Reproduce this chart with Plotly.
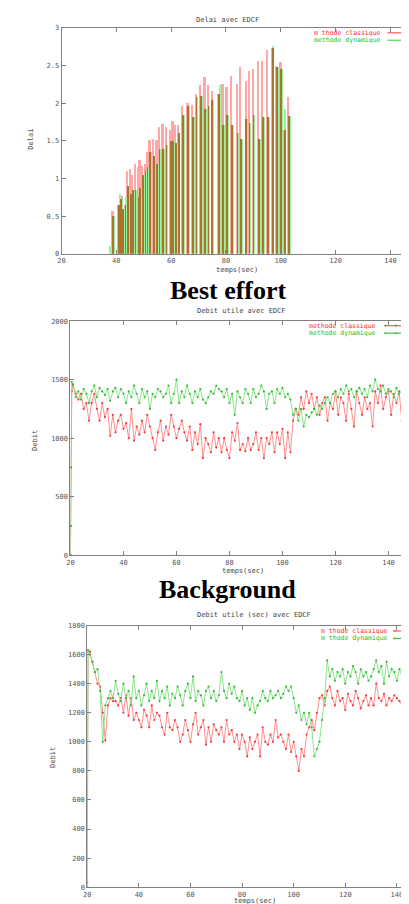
import numpy as np
import plotly.graph_objects as go

W, H = 409, 904

# ---------------- Data: plot 1 (Delai avec EDCF) ----------------
bar_t = [37.2, 38.4, 40.5, 41.3, 42.0, 42.9, 43.7, 44.9, 45.6, 46.6, 47.7, 48.3, 49.2, 50.2,
         50.9, 51.9, 53.2, 54.5, 55.3, 56.7, 57.9, 59.5, 60.3, 61.3, 62.3, 63.9, 65.8, 67.5,
         68.8, 70.5, 72.0, 73.2, 74.6, 77.1, 78.6, 80.0, 81.7, 83.8, 85.0, 87.0, 88.2, 89.6,
         91.6, 93.0, 94.8, 96.6, 98.2, 99.7, 101.0, 102.6]
delai_classique = [0.0, 0.57, 0.65, 0.73, 0.77, 0.65, 1.10, 1.13, 1.05, 1.20, 1.15, 1.25, 1.17, 1.20,
                   1.35, 1.51, 1.53, 1.51, 1.69, 1.73, 1.69, 1.64, 1.77, 1.71, 1.71, 1.96, 2.00, 1.98,
                   2.12, 2.25, 2.35, 2.24, 2.16, 2.13, 2.26, 2.22, 2.36, 2.26, 2.48, 2.29, 2.43, 2.45,
                   2.56, 2.56, 2.71, 2.73, 2.50, 2.55, 1.65, 2.08]
delai_dynamique = [0.10, 0.50, 0.80, 0.73, 0.60, 0.75, 0.90, 0.80, 0.85, 0.85, 0.75, 0.87, 1.05, 1.10,
                   1.15, 1.35, 1.30, 1.20, 1.40, 1.39, 1.45, 1.50, 1.50, 1.48, 1.60, 1.84, 1.97, 1.82,
                   2.08, 2.10, 1.93, 1.97, 2.05, 2.24, 1.71, 1.84, 1.71, 1.60, 1.53, 1.79, 1.74, 1.84,
                   1.53, 1.82, 1.82, 2.76, 2.48, 2.45, 1.92, 1.83]

# ---------------- Data: plot 2 (Best effort) ----------------
t2 = [20, 20.1, 20.2, 20.5] + list(range(21, 150)) + [150]
debit_be_classique = [0, 250, 750, 1400,
    1450, 1380, 1330, 1380, 1250, 1300, 1150, 1300, 1380, 1250,
    1150, 1300, 1180, 1250, 1020, 1200, 1050, 1150, 1200, 1080,
    1130, 1000, 1250, 980, 1100, 1030, 1150, 1050, 1200, 1100,
    1000, 900, 1050, 1150, 980, 1100, 1030, 1200, 1100, 1000,
    1080, 1150, 1050, 980, 1100, 900, 1050, 950, 1120, 830,
    1000, 950, 880, 1050, 920, 1000, 880, 1000, 900, 830,
    1050, 980, 1130, 900, 950, 890, 1000, 900, 950, 1050,
    900, 1000, 830, 1000, 950, 1050, 880, 1050, 950, 1080,
    830, 1050, 880, 1150, 1250, 1200, 1350, 1250, 1400, 1300,
    1380, 1250, 1350, 1200, 1300, 1350, 1150, 1300, 1250, 1400,
    1200, 1350, 1300, 1150, 1380, 1250, 1100, 1400, 1300, 1200,
    1350, 1250, 1300, 1100, 1400, 1300, 1450, 1250, 1350, 1400,
    1200, 1380, 1300, 1400, 1150, 1350, 1250, 1400, 1200,
    1450]
debit_be_dynamique = [0, 250, 750, 1480,
    1460, 1350, 1400, 1330, 1420, 1380, 1300, 1400, 1450, 1350,
    1430, 1400, 1370, 1420, 1320, 1400, 1430, 1350, 1420, 1380,
    1300, 1400, 1350, 1450, 1380, 1300, 1420, 1350, 1400, 1250,
    1380, 1350, 1420, 1400, 1350, 1380, 1450, 1300, 1380, 1500,
    1300, 1400, 1350, 1450, 1380, 1300, 1400, 1350, 1420, 1330,
    1300, 1350, 1400, 1380, 1450, 1420, 1400, 1350, 1420, 1300,
    1380, 1200, 1400, 1350, 1300, 1420, 1380, 1300, 1420, 1350,
    1380, 1450, 1400, 1250, 1380, 1400, 1300, 1420, 1380, 1430,
    1350, 1380, 1330, 1200, 1250, 1150, 1250, 1100, 1200, 1180,
    1220, 1250, 1200, 1280, 1250, 1300, 1350, 1300, 1380, 1400,
    1350, 1420, 1380, 1450, 1400, 1420, 1350, 1400, 1430, 1380,
    1420, 1350, 1450, 1400, 1500, 1420, 1400, 1450, 1380, 1420,
    1400, 1350, 1430, 1380, 1400, 1350, 1420, 1380, 1400,
    1480]

# ---------------- Data: plot 3 (Background) ----------------
t3 = [20, 20.3] + list(range(21, 149))
debit_bg_classique = [30, 1630,
    1620, 1550, 1480, 1400, 1380, 1200, 1010, 1250, 1300, 1280,
    1280, 1250, 1300, 1200, 1320, 1180, 1300, 1150, 1200, 1150,
    1100, 1220, 1180, 1100, 1250, 1150, 1200, 1180, 1100, 1050,
    1200, 1100, 1080, 1150, 1100, 1000, 1050, 1150, 1080, 1000,
    1120, 1200, 1050, 1100, 1150, 980, 1100, 1000, 1120, 1080,
    1050, 1100, 1000, 1150, 1050, 1080, 1000, 1050, 950, 1050,
    1000, 900, 1030, 950, 1000, 1050, 900, 1100, 1000, 980,
    1050, 1000, 1150, 1030, 1050, 1000, 950, 1050, 930, 1000,
    900, 800, 950, 900, 1050, 1100, 1150, 1080, 1200, 1300,
    1320, 1250, 1350, 1380, 1300, 1250, 1350, 1280, 1300, 1220,
    1330, 1280, 1250, 1350, 1300, 1230, 1280, 1320, 1250, 1300,
    1250, 1400, 1300, 1280, 1330, 1250, 1300, 1280, 1320, 1300,
    1280, 1250, 1300, 1350, 1280, 1300, 1250, 1350]
debit_bg_dynamique = [0, 1630,
    1600, 1550, 1480, 1500, 1350, 1000, 1250, 1300, 1350, 1300,
    1420, 1330, 1280, 1400, 1300, 1350, 1250, 1450, 1300, 1350,
    1250, 1320, 1400, 1280, 1350, 1300, 1420, 1280, 1350, 1300,
    1380, 1250, 1330, 1300, 1380, 1320, 1250, 1350, 1400, 1300,
    1450, 1280, 1350, 1320, 1250, 1350, 1380, 1300, 1350, 1280,
    1320, 1480, 1350, 1300, 1400, 1330, 1380, 1300, 1280, 1350,
    1250, 1300, 1220, 1300, 1200, 1250, 1280, 1350, 1300, 1280,
    1350, 1300, 1320, 1350, 1300, 1330, 1380, 1350, 1380, 1300,
    1200, 1250, 1150, 1200, 1120, 1200, 1100, 900, 950, 1000,
    1150, 1300, 1560, 1450, 1500, 1420, 1480, 1450, 1500, 1400,
    1480, 1450, 1520, 1480, 1400, 1500, 1450, 1480, 1420, 1450,
    1500, 1560, 1480, 1520, 1400, 1550, 1450, 1500, 1480, 1420,
    1500, 1450, 1480, 1420, 1450, 1400, 1450, 1430]

x_ticks = [20, 40, 60, 80, 100, 120, 140]
y1_ticks = [0, 0.5, 1, 1.5, 2, 2.5, 3]
y1_labels = ["0", "0.5", "1", "1.5", "2", "2.5", "3"]
y2_ticks = [0, 500, 1000, 1500, 2000]
y3_ticks = [0, 200, 400, 600, 800, 1000, 1200, 1400, 1600, 1800]

PINK = "#ffa6a6"
LGREEN = "#9ef09e"
BROWN = "#a8742f"
RED_LINE = "#ff8282"
RED_PT = "#f03a3a"
GREEN_LINE = "#7fe07f"
GREEN_PT = "#33bb33"

# bar geometry (styling): red at t, green shifted, brown where both overlap
BW = 0.8
SHIFT = 0.52
t_arr = np.array(bar_t)
r_arr = np.array(delai_classique)
g_arr = np.array(delai_dynamique)

fig = go.Figure()
fig.add_trace(go.Bar(x=t_arr, y=r_arr, width=BW, marker=dict(color=PINK, line=dict(width=0)),
                     xaxis="x", yaxis="y", showlegend=False))
fig.add_trace(go.Bar(x=t_arr + SHIFT, y=g_arr, width=BW, marker=dict(color=LGREEN, line=dict(width=0)),
                     xaxis="x", yaxis="y", showlegend=False))
fig.add_trace(go.Bar(x=t_arr + SHIFT / 2, y=np.minimum(r_arr, g_arr), width=BW - SHIFT,
                     marker=dict(color=BROWN, line=dict(width=0)),
                     xaxis="x", yaxis="y", showlegend=False))

def add_line(t, v, ax, ay, lc, pc):
    fig.add_trace(go.Scatter(x=t, y=v, mode="lines+markers", xaxis=ax, yaxis=ay, showlegend=False,
                             line=dict(color=lc, width=0.9),
                             marker=dict(color=pc, size=2.2, symbol="circle")))

add_line(t2, debit_be_classique, "x2", "y2", RED_LINE, RED_PT)
add_line(t2, debit_be_dynamique, "x2", "y2", GREEN_LINE, GREEN_PT)
add_line(t3, debit_bg_classique, "x3", "y3", RED_LINE, RED_PT)
add_line(t3, debit_bg_dynamique, "x3", "y3", GREEN_LINE, GREEN_PT)

TICKFONT = dict(family="DejaVu Sans Mono", size=7, color="#555555")
AXC = "#808080"

def xax(domain, rng, anchor, mirror=True):
    return dict(domain=domain, range=rng, anchor=anchor, tickvals=x_ticks,
                ticktext=[str(v) for v in x_ticks], ticks="inside", ticklen=4, tickcolor=AXC,
                showline=True, linecolor=AXC, linewidth=1, mirror="ticks" if mirror else False,
                showgrid=False, zeroline=False, tickfont=TICKFONT, fixedrange=True)

def yax(domain, rng, anchor, tv, tt, mirror=True):
    return dict(domain=domain, range=rng, anchor=anchor, tickvals=tv, ticktext=tt,
                ticks="inside", ticklen=4, tickcolor=AXC, showline=True, linecolor=AXC,
                linewidth=1, mirror="ticks" if mirror else False, showgrid=False,
                zeroline=False, tickfont=TICKFONT, fixedrange=True)

def py(p):
    return 1 - p / H

def px(p):
    return p / W

layout = dict(
    width=W, height=H, margin=dict(l=0, r=0, t=0, b=0),
    paper_bgcolor="white", plot_bgcolor="white", barmode="overlay", bargap=0,
    xaxis=xax([px(50), px(407)], [20, 149], "y"),
    yaxis=yax([py(244), py(16)], [0, 3], "x", y1_ticks, y1_labels),
    xaxis2=xax([px(59), px(407)], [20, 150], "y2"),
    yaxis2=yax([py(548), py(312)], [0, 2000], "x2", y2_ticks, [str(v) for v in y2_ticks]),
    xaxis3=xax([px(76), 1.0], [20, 147.8], "y3"),
    yaxis3=yax([py(883), py(619)], [0, 1800], "x3", y3_ticks, [str(v) for v in y3_ticks], mirror=False),
)
fig.update_layout(**layout)

ann = []
SMALL = dict(family="DejaVu Sans Mono", size=7, color="#444444")

def text(x, y, s, font=SMALL, xanchor="center", textangle=0):
    ann.append(dict(x=px(x), y=py(y), xref="paper", yref="paper", text=s, showarrow=False,
                    xanchor=xanchor, yanchor="middle", font=font, textangle=textangle))

# titles
text(218, 8, "Delai avec EDCF")
text(232, 302, "Debit utile avec EDCF")
text(244, 608, "Debit utile (sec) avec EDCF")
# axis titles
text(227, 260, "temps(sec)")
text(233, 564, "temps(sec)")
text(245, 897, "temps(sec)")
text(19, 128, "Delai", textangle=-90)
text(23, 432, "Debit", textangle=-90)
text(42, 752, "Debit", textangle=-90)
# captions
CAP = dict(family="Liberation Serif", size=26, color="black")
text(219, 281, "<b>Best effort</b>", font=CAP)
text(218, 583, "<b>Background</b>", font=CAP)

# legends
RF = dict(family="DejaVu Sans Mono", size=6.5, color="#ff2a2a")
GF = dict(family="DejaVu Sans Mono", size=6.5, color="#22c022")
text(375, 21, "m thode classique", font=RF, xanchor="right")
text(375, 28.5, "methode dynamique", font=GF, xanchor="right")
text(370, 316.5, "methode classique", font=RF, xanchor="right")
text(370, 324, "methode dynamique", font=GF, xanchor="right")
text(382, 624.5, "m thode classique", font=RF, xanchor="right")
text(382, 632, "m thode dynamique", font=GF, xanchor="right")

shapes = []
def seg(x0, x1, y, color, pts=False):
    shapes.append(dict(type="line", xref="paper", yref="paper", x0=px(x0), x1=px(x1),
                       y0=py(y), y1=py(y), line=dict(color=color, width=1.2)))
    if pts:
        for xx in (x0, (x0 + x1) / 2, x1):
            shapes.append(dict(type="circle", xref="paper", yref="paper",
                               x0=px(xx - 1.1), x1=px(xx + 1.1), y0=py(y + 1.1), y1=py(y - 1.1),
                               fillcolor=color, line=dict(width=0)))

seg(379, 402, 21, "#ff5858")
seg(379, 402, 28.5, "#58d858")
seg(377, 398, 316.5, "#ff5858", pts=True)
seg(377, 398, 324, "#44c444", pts=True)
seg(386, 408, 624.5, "#ff5858", pts=True)
seg(386, 408, 632, "#44c444", pts=True)

fig.update_layout(annotations=ann, shapes=shapes)
fig.write_html("out.html")
